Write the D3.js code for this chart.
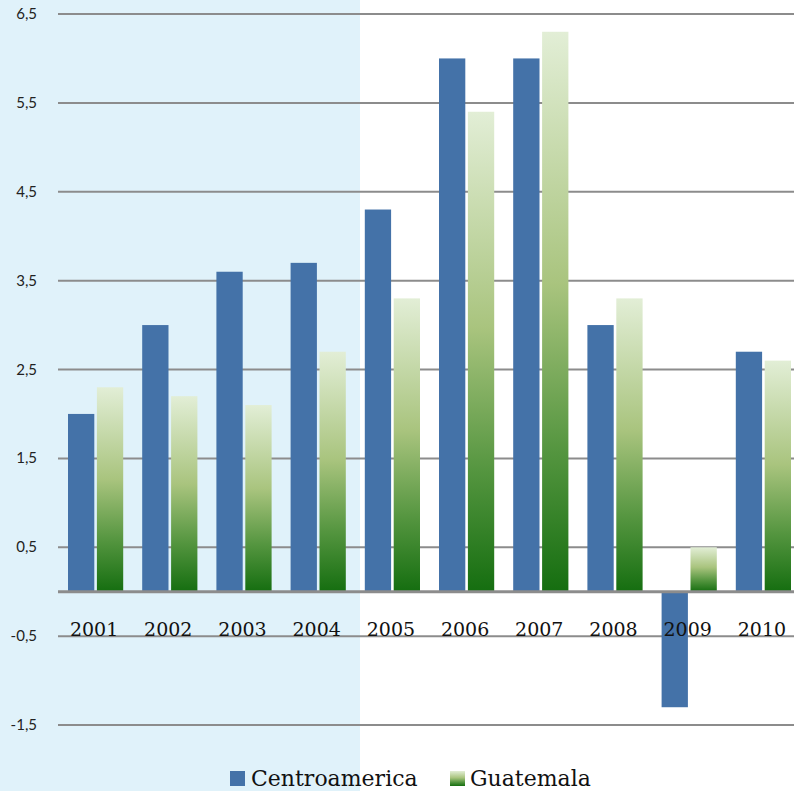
<!DOCTYPE html>
<html lang="es">
<head>
    <meta charset="UTF-8">
    <title>Centroamerica vs Guatemala</title>
    <script src="https://cdn.jsdelivr.net/npm/d3@7"></script>
    <style>
        body {margin: 0; background: #fff;}
    </style>
</head>
<body>
    <div id="graf"></div>
    <script>
        // datos
        let anios = ["2001", "2002", "2003", "2004", "2005", "2006", "2007", "2008", "2009", "2010"];
        let centroamerica = [2.0, 3.0, 3.6, 3.7, 4.3, 6.0, 6.0, 3.0, -1.3, 2.7];
        let guatemala = [2.3, 2.2, 2.1, 2.7, 3.3, 5.4, 6.3, 3.3, 0.5, 2.6];
        let ticksY = [-1.5, -0.5, 0.5, 1.5, 2.5, 3.5, 4.5, 5.5, 6.5];
        let series = ["Centroamerica", "Guatemala"];

        let width = 794, height = 791;
        let left = 58, right = 800;

        let svg = d3.select("#graf")
            .append("svg")
            .attr("width", width)
            .attr("height", height);

        let defs = svg.append("defs");
        let grad = defs.append("linearGradient")
            .attr("id", "verde")
            .attr("x1", 0).attr("y1", 0).attr("x2", 0).attr("y2", 1);
        grad.append("stop").attr("offset", "0%").attr("stop-color", "#e2eed6");
        grad.append("stop").attr("offset", "45%").attr("stop-color", "#a9c47e");
        grad.append("stop").attr("offset", "75%").attr("stop-color", "#54953f");
        grad.append("stop").attr("offset", "100%").attr("stop-color", "#156e10");

        // panel celeste a la izquierda
        svg.append("rect")
            .attr("x", 0).attr("y", 0)
            .attr("width", 360).attr("height", height)
            .attr("fill", "#e0f2fa");

        let y = d3.scaleLinear()
            .domain([-1.5, 6.5])
            .range([725, 14]);

        let x = d3.scaleBand()
            .domain(anios)
            .range([left, right]);

        let xs = d3.scaleBand()
            .domain(series)
            .range([10, x.bandwidth() - 9])
            .paddingInner(0.09);

        // líneas de la cuadrícula
        svg.append("g")
            .selectAll("line")
            .data(ticksY)
            .join("line")
            .attr("x1", left).attr("x2", width)
            .attr("y1", d => y(d)).attr("y2", d => y(d))
            .attr("stroke", "#8c8c8c")
            .attr("stroke-width", 2);

        svg.append("g")
            .selectAll("text")
            .data(ticksY)
            .join("text")
            .attr("x", 37)
            .attr("y", d => y(d) + 5)
            .attr("text-anchor", "end")
            .attr("font-family", "Lato, Open Sans, sans-serif")
            .attr("font-size", 15)
            .attr("fill", "#222")
            .text(d => d3.format(".1f")(d).replace(".", ",").replace("−", "-"));

        let datos = anios.map((a, i) => ({anio: a, valores: [centroamerica[i], guatemala[i]]}));

        let grupos = svg.append("g")
            .selectAll("g")
            .data(datos)
            .join("g")
            .attr("transform", d => "translate(" + x(d.anio) + ",0)");

        grupos.selectAll("rect")
            .data(d => d.valores.map((v, j) => ({serie: series[j], valor: v})))
            .join("rect")
            .attr("x", d => xs(d.serie))
            .attr("width", xs.bandwidth())
            .attr("y", d => y(Math.max(0, d.valor)))
            .attr("height", d => Math.abs(y(d.valor) - y(0)))
            .attr("fill", d => d.serie === "Centroamerica" ? "#4472a8" : "url(#verde)");

        // eje de categorías
        svg.append("line")
            .attr("x1", left).attr("x2", width)
            .attr("y1", y(0)).attr("y2", y(0))
            .attr("stroke", "#8c8c8c")
            .attr("stroke-width", 3);

        svg.append("g")
            .selectAll("text")
            .data(anios)
            .join("text")
            .attr("x", d => x(d) + x.bandwidth() / 2 - 1)
            .attr("y", 636)
            .attr("text-anchor", "middle")
            .attr("font-family", "DejaVu Serif, serif")
            .attr("font-size", 19)
            .attr("fill", "#111")
            .text(d => d);

        // leyenda
        let leyenda = svg.append("g");
        leyenda.append("rect")
            .attr("x", 230).attr("y", 771).attr("width", 15).attr("height", 15)
            .attr("fill", "#4472a8");
        leyenda.append("text")
            .attr("x", 251).attr("y", 786)
            .attr("font-family", "DejaVu Serif, serif")
            .attr("font-size", 22)
            .attr("fill", "#111")
            .text("Centroamerica");
        leyenda.append("rect")
            .attr("x", 450).attr("y", 771).attr("width", 15).attr("height", 15)
            .attr("fill", "url(#verde)");
        leyenda.append("text")
            .attr("x", 470).attr("y", 786)
            .attr("font-family", "DejaVu Serif, serif")
            .attr("font-size", 22)
            .attr("fill", "#111")
            .text("Guatemala");
    </script>
</body>
</html>
